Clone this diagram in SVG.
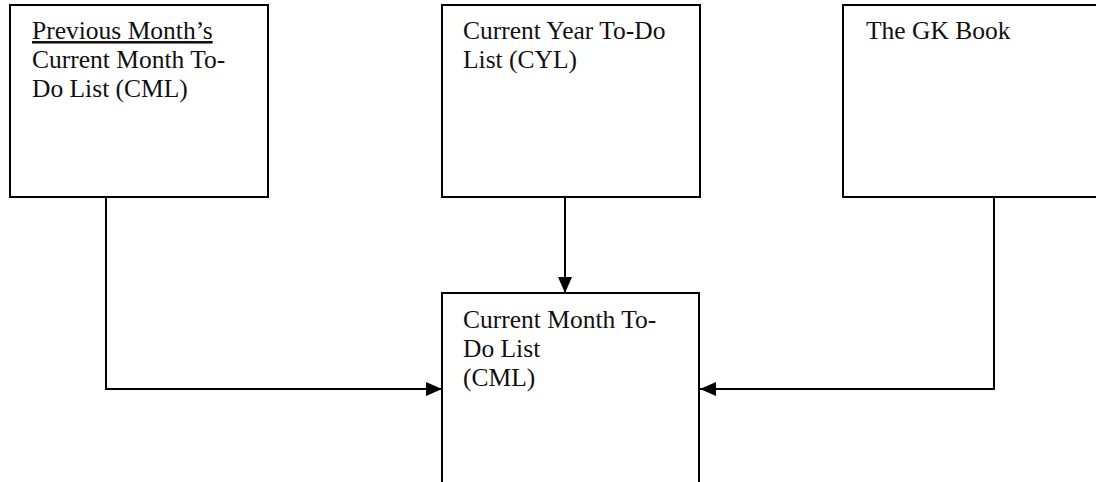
<svg xmlns="http://www.w3.org/2000/svg" width="1096" height="482" viewBox="0 0 1096 482">
  <style>
    .box { fill: #ffffff; stroke: #000000; stroke-width: 2; }
    .label { font-family: "Liberation Serif", "Times New Roman", serif; font-size: 25.5px; fill: #111111; }
    .wire { fill: none; stroke: #000000; stroke-width: 2; }
  </style>
  <defs>
    <marker id="arrow" viewBox="0 0 16 14" refX="16" refY="7" markerWidth="16" markerHeight="14" markerUnits="userSpaceOnUse" orient="auto">
      <path d="M0,0 L16,7 L0,14 Z" fill="#000000"/>
    </marker>
  </defs>
  <rect width="1096" height="482" fill="#ffffff"/>

  <!-- source lists feeding the monthly list -->
  <g id="prev-cml">
    <rect class="box" x="10" y="5" width="258" height="192"/>
    <text class="label" x="32" y="39" text-decoration="underline">Previous Month’s</text>
    <text class="label" x="32" y="68">Current Month To-</text>
    <text class="label" x="32" y="97">Do List (CML)</text>
  </g>

  <g id="cyl">
    <rect class="box" x="442" y="5" width="258" height="192"/>
    <text class="label" x="463" y="39">Current Year To-Do</text>
    <text class="label" x="463" y="68">List (CYL)</text>
  </g>

  <g id="gk-book">
    <rect class="box" x="843" y="5" width="258" height="192"/>
    <text class="label" x="866" y="39">The GK Book</text>
  </g>

  <!-- resulting monthly list -->
  <g id="cml">
    <rect class="box" x="442" y="293" width="257" height="220"/>
    <text class="label" x="463" y="328">Current Month To-</text>
    <text class="label" x="463" y="357">Do List</text>
    <text class="label" x="463" y="386">(CML)</text>
  </g>

  <g id="connectors">
    <path class="wire" d="M106,197 L106,389 L442,389" marker-end="url(#arrow)"/>
    <path class="wire" d="M565,197 L565,293" marker-end="url(#arrow)"/>
    <path class="wire" d="M994,197 L994,389 L700,389" marker-end="url(#arrow)"/>
  </g>
</svg>
